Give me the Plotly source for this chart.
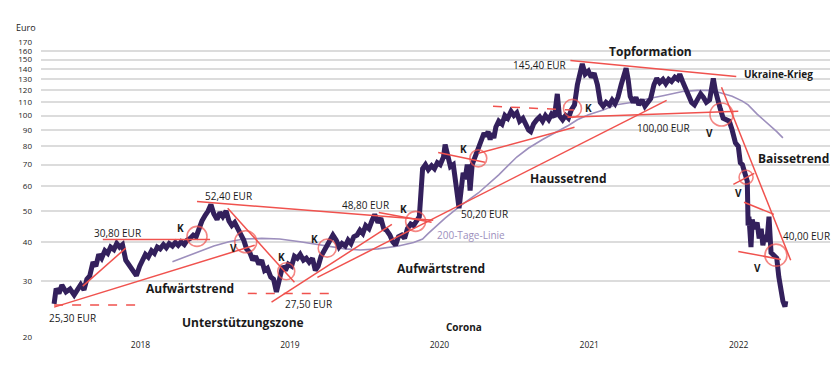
import numpy as np
import plotly.graph_objects as go

# ---------------- data ----------------
price_dates = [
"2017-06-04","2017-06-09","2017-06-16","2017-06-23","2017-07-03","2017-07-13","2017-07-23","2017-08-01","2017-08-08","2017-08-16",
"2017-08-23","2017-08-30","2017-09-07","2017-09-14","2017-09-21","2017-09-28","2017-10-06","2017-10-13","2017-10-20","2017-10-28",
"2017-11-04","2017-11-11","2017-11-18","2017-11-26","2017-12-03","2017-12-10","2017-12-17","2017-12-22","2017-12-30","2018-01-06",
"2018-01-13","2018-01-20","2018-01-28","2018-02-04","2018-02-11","2018-02-18","2018-02-26","2018-03-05","2018-03-12","2018-03-20",
"2018-03-27","2018-04-03","2018-04-10","2018-04-18","2018-04-25","2018-05-02","2018-05-10","2018-05-17","2018-05-24","2018-05-31",
"2018-06-08","2018-06-15","2018-06-22","2018-06-29","2018-07-07","2018-07-14","2018-07-21","2018-07-29","2018-08-05","2018-08-12",
"2018-08-19","2018-08-27","2018-09-03","2018-09-10","2018-09-17","2018-09-25","2018-10-02","2018-10-09","2018-10-17","2018-10-24",
"2018-10-31","2018-11-07","2018-11-15","2018-11-22","2018-11-29","2018-12-07","2018-12-14","2018-12-21","2018-12-28","2019-01-05",
"2019-01-12","2019-01-19","2019-01-26","2019-02-03","2019-02-10","2019-02-17","2019-02-25","2019-03-04","2019-03-11","2019-03-18",
"2019-03-26","2019-04-02","2019-04-09","2019-04-16","2019-04-24","2019-05-01","2019-05-08","2019-05-16","2019-05-23","2019-05-30",
"2019-06-06","2019-06-14","2019-06-21","2019-06-28","2019-07-05","2019-07-13","2019-07-20","2019-07-27","2019-08-04","2019-08-11",
"2019-08-18","2019-08-25","2019-09-02","2019-09-09","2019-09-16","2019-09-23","2019-10-01","2019-10-08","2019-10-15","2019-10-23",
"2019-10-30","2019-11-06","2019-11-13","2019-11-21","2019-11-28","2019-12-05","2019-12-13","2019-12-20","2019-12-27","2020-01-03",
"2020-01-11","2020-01-15","2020-01-20","2020-01-28","2020-02-04","2020-02-09","2020-02-14","2020-02-18","2020-02-23","2020-02-28",
"2020-03-04","2020-03-09","2020-03-14","2020-03-16","2020-03-21","2020-03-26","2020-03-31","2020-04-05","2020-04-09","2020-04-14",
"2020-04-19","2020-04-24","2020-04-29","2020-05-04","2020-05-08","2020-05-13","2020-05-18","2020-05-25","2020-06-02","2020-06-09",
"2020-06-16","2020-06-24","2020-07-01","2020-07-08","2020-07-15","2020-07-23","2020-07-30","2020-08-06","2020-08-11","2020-08-18",
"2020-08-26","2020-09-02","2020-09-09","2020-09-16","2020-09-24","2020-10-01","2020-10-08","2020-10-15","2020-10-20","2020-10-28",
"2020-11-04","2020-11-11","2020-11-18","2020-11-26","2020-12-03","2020-12-10","2020-12-15","2020-12-22","2020-12-30","2021-01-06",
"2021-01-13","2021-01-21","2021-01-28","2021-02-04","2021-02-11","2021-02-19","2021-02-26","2021-03-05","2021-03-12","2021-03-20",
"2021-03-27","2021-04-01","2021-04-06","2021-04-11","2021-04-18","2021-04-25","2021-05-02","2021-05-10","2021-05-17","2021-05-24",
"2021-05-31","2021-06-08","2021-06-15","2021-06-22","2021-06-30","2021-07-07","2021-07-14","2021-07-21","2021-07-29","2021-08-05",
"2021-08-10","2021-08-17","2021-08-24","2021-09-01","2021-09-08","2021-09-15","2021-09-22","2021-09-30","2021-10-07","2021-10-14",
"2021-10-22","2021-10-29","2021-10-31","2021-11-05","2021-11-10","2021-11-17","2021-11-24","2021-12-02","2021-12-09","2021-12-16",
"2021-12-24","2021-12-31","2022-01-05","2022-01-10","2022-01-14","2022-01-19","2022-01-22","2022-01-24","2022-01-26","2022-01-31",
"2022-02-03","2022-02-08","2022-02-15","2022-02-20","2022-02-25","2022-03-01","2022-03-06","2022-03-11","2022-03-16","2022-03-21",
"2022-03-28","2022-04-04","2022-04-09","2022-04-14","2022-04-19","2022-04-24","2022-04-26",
]
price_values = [
25.5,28.5,27.5,29.2,27.8,28.4,27.2,28.2,29.3,28.2,
30.5,31.2,34.5,33.5,36.5,35.5,37.5,36.8,38.5,37.8,
39.5,38.5,39.2,35.0,34.0,33.2,32.0,31.3,33.5,34.8,
36.5,35.8,37.5,36.8,38.5,38.0,39.2,38.3,39.5,38.8,
39.8,39.0,40.0,39.2,40.5,41.0,42.0,41.5,44.0,46.5,
48.5,50.0,52.4,49.0,47.0,49.5,48.0,50.0,46.5,45.0,
46.0,44.0,42.0,40.5,38.0,37.0,35.0,36.0,34.0,35.0,
32.5,33.0,31.0,30.5,27.8,31.5,33.5,32.5,34.0,33.5,
36.0,35.5,36.5,35.0,35.5,34.5,35.5,32.5,33.5,36.0,
37.5,38.5,40.0,42.0,40.5,38.5,39.5,38.8,40.5,39.5,
41.5,42.0,43.5,42.5,45.0,44.0,46.5,48.8,46.0,47.5,
44.0,43.5,42.0,40.0,39.0,41.5,42.0,41.0,44.0,45.5,
45.0,46.5,48.0,68.0,70.0,67.5,69.5,68.0,71.0,70.0,
74.0,81.0,75.0,69.0,70.0,64.0,56.0,51.0,60.0,66.0,
63.0,70.0,64.0,58.0,70.0,73.0,76.0,80.0,82.0,86.0,
88.0,86.0,89.0,84.0,88.0,85.0,92.0,96.0,94.0,100.0,
98.0,103.0,100.0,102.0,96.0,98.0,93.0,90.0,89.0,94.0,
97.0,99.0,96.0,100.0,97.0,101.0,99.0,117.0,100.0,97.0,
100.0,98.0,104.0,108.0,125.0,135.0,145.4,135.0,138.0,132.0,
136.0,125.0,110.0,107.0,110.0,108.0,112.0,109.0,114.0,125.0,
135.0,141.0,130.0,115.0,110.0,114.0,108.0,112.0,107.0,110.0,
113.0,125.0,131.0,127.0,130.0,126.0,130.0,128.0,132.0,130.0,
135.0,128.0,122.0,115.0,110.0,108.0,112.0,117.0,114.0,110.0,
112.0,128.0,131.0,120.0,112.0,105.0,98.0,97.0,96.0,90.0,
82.0,80.0,71.0,70.0,67.0,64.0,62.0,45.0,48.0,38.5,
47.0,44.0,46.0,41.0,44.0,39.0,42.0,40.0,48.0,37.0,
36.0,35.5,31.0,28.0,26.0,25.0,26.0,
]

ma200_dates = [
"2018-03-20","2018-04-18","2018-05-31","2018-06-29","2018-08-05","2018-09-10","2018-10-24","2018-12-07",
"2019-01-26","2019-03-18","2019-05-16","2019-06-21","2019-08-04","2019-09-23","2019-10-30","2019-11-21",
"2019-12-05","2020-01-15","2020-02-18","2020-04-05","2020-05-25","2020-07-08","2020-08-06","2020-09-09",
"2020-10-08","2020-11-11","2020-12-03","2020-12-30","2021-02-04","2021-03-05","2021-04-25","2021-05-24",
"2021-06-30","2021-08-17","2021-09-22","2021-10-22","2021-11-17","2021-12-16","2022-01-10","2022-01-24",
"2022-02-15","2022-03-11","2022-04-04","2022-04-19",
]
ma200_values = [
34.6,35.8,37.5,38.8,40.0,40.8,41.0,40.8,
40.0,39.0,38.0,37.7,38.0,38.8,39.8,40.8,
42.5,47.5,51.5,57.0,65.0,74.0,79.0,84.0,
88.0,93.0,97.0,100.5,104.0,108.0,110.5,113.0,
115.5,119.0,120.0,120.0,118.0,115.0,111.0,108.0,
101.0,95.0,89.0,85.0,
]

year_ticks = ["2018-01-01", "2019-01-01", "2020-01-01", "2021-01-01", "2022-01-01"]
year_labels = ["2018", "2019", "2020", "2021", "2022"]
y_ticks = [20, 30, 40, 50, 60, 70, 80, 90, 100, 110, 120, 130, 140, 150, 160, 170]

# trend lines: (start date, start value, end date, end value, dash)
trend_lines = [
    ("2017-06-04", 24.9, "2018-10-07", 39.0, "solid"),
    ("2017-08-13", 29.0, "2017-11-26", 38.2, "solid"),
    ("2017-06-04", 25.3, "2017-12-25", 25.3, "dash"),
    ("2017-10-01", 40.7, "2018-06-20", 40.7, "solid"),
    ("2018-05-19", 53.6, "2019-12-17", 46.8, "solid"),
    ("2018-08-02", 51.0, "2019-01-12", 29.8, "solid"),
    ("2018-09-20", 27.5, "2019-04-19", 27.5, "dash"),
    ("2018-11-17", 25.8, "2019-09-07", 45.4, "solid"),
    ("2019-08-06", 49.5, "2019-12-13", 46.1, "solid"),
    ("2019-03-09", 30.9, "2021-07-09", 111.6, "solid"),
    ("2019-12-29", 76.5, "2020-04-21", 71.2, "solid"),
    ("2020-04-05", 76.0, "2020-11-26", 91.8, "solid"),
    ("2020-05-11", 106.9, "2020-12-10", 103.8, "dash"),
    ("2020-11-09", 98.7, "2021-12-31", 103.1, "solid"),
    ("2020-11-16", 149.2, "2021-12-26", 132.8, "solid"),
    ("2021-11-20", 122.7, "2022-05-08", 35.0, "solid"),
    ("2021-12-19", 60.7, "2022-02-08", 65.7, "solid"),
    ("2022-01-14", 53.3, "2022-03-28", 48.8, "solid"),
    ("2021-12-31", 37.3, "2022-04-14", 35.2, "solid"),
]

# signal circles: (date, value, diameter)
circles = [
    ("2018-05-19", 41.6, 20), ("2018-09-15", 40.0, 22), ("2018-12-23", 32.3, 17),
    ("2019-04-02", 38.2, 18), ("2019-11-04", 46.4, 20), ("2020-04-05", 73.3, 17),
    ("2020-11-21", 105.3, 18), ("2021-11-20", 100.8, 23), ("2022-01-19", 63.9, 14),
    ("2022-04-02", 36.3, 22),
]

# labels: (text, date, value, style)
labels = [
    ("30,80 EUR", "2017-11-06", 42.5, "eur"),
    ("K", "2018-04-08", 44.1, "sig"),
    ("52,40 EUR", "2018-08-05", 55.6, "eur"),
    ("V", "2018-08-15", 38.2, "sig"),
    ("K", "2018-12-11", 35.7, "sig"),
    ("Aufwärtstrend", "2018-05-02", 28.5, "big"),
    ("25,30 EUR", "2017-07-20", 23.0, "eur"),
    ("Unterstützungszone", "2018-09-08", 22.3, "big"),
    ("27,50 EUR", "2019-02-15", 25.4, "eur"),
    ("K", "2019-03-01", 40.7, "sig"),
    ("48,80 EUR", "2019-07-05", 52.1, "eur"),
    ("K", "2019-10-06", 50.6, "sig"),
    ("Aufwärtstrend", "2020-01-06", 33.0, "big"),
    ("Corona", "2020-03-01", 21.5, "small"),
    ("50,20 EUR", "2020-04-19", 48.8, "eur"),
    ("200-Tage-Linie", "2020-03-19", 41.9, "ma"),
    ("K", "2020-03-01", 78.2, "sig"),
    ("Haussetrend", "2020-11-11", 63.4, "big"),
    ("145,40 EUR", "2020-09-02", 143.9, "eur"),
    ("K", "2020-12-30", 105.3, "sig"),
    ("100,00 EUR", "2021-07-02", 91.1, "eur"),
    ("V", "2021-10-22", 87.9, "sig"),
    ("Topformation", "2021-05-31", 159.2, "big"),
    ("Ukraine-Krieg", "2022-04-07", 134.8, "small"),
    ("Baissetrend", "2022-05-16", 73.3, "big"),
    ("V", "2021-12-31", 56.9, "sig"),
    ("40,00 EUR", "2022-06-16", 41.6, "eur"),
    ("V", "2022-02-17", 33.0, "sig"),
]

# ---------------- styles ----------------
PRICE_C = "#33205c"
MA_C = "#9d8fbd"
RED = "#f0524e"
TXT = "#1a1a1a"
FONT = "Open Sans"

fig = go.Figure()

fig.add_trace(go.Scatter(x=ma200_dates, y=ma200_values, mode="lines",
                         line=dict(color=MA_C, width=1.6), hoverinfo="skip"))
fig.add_trace(go.Scatter(x=price_dates, y=price_values, mode="lines",
                         line=dict(color=PRICE_C, width=5), hoverinfo="skip"))

for d0, v0, d1, v1, dash in trend_lines:
    fig.add_trace(go.Scatter(x=[d0, d1], y=[v0, v1], mode="lines",
                             line=dict(color=RED, width=1.5, dash=dash), hoverinfo="skip"))

fig.add_trace(go.Scatter(
    x=[c[0] for c in circles], y=[c[1] for c in circles], mode="markers",
    marker=dict(symbol="circle-open", size=[c[2] for c in circles], color=RED,
                line=dict(width=1.6, color=RED)),
    hoverinfo="skip"))

styles = {
    "eur": dict(size=10, color=TXT, bold=False),
    "sig": dict(size=10, color=TXT, bold=True),
    "big": dict(size=12, color=TXT, bold=True),
    "small": dict(size=10, color=TXT, bold=True),
    "ma": dict(size=10, color=MA_C, bold=False),
}
for text, d, v, st in labels:
    s = styles[st]
    fig.add_annotation(x=d, y=np.log10(v), xref="x", yref="y",
                       text=f"<b>{text}</b>" if s["bold"] else text,
                       showarrow=False, xanchor="center", yanchor="middle",
                       font=dict(family=FONT, size=s["size"], color=s["color"]))

fig.add_annotation(x=-0.034, y=1.05, xref="paper", yref="paper", text="Euro",
                   showarrow=False, xanchor="left", yanchor="middle",
                   font=dict(family=FONT, size=9, color=TXT))

# the page body adds an 8 px offset, so the figure is sized to fit the window
fig.update_layout(
    width=832, height=364,
    margin=dict(l=27, r=10, t=34, b=34),
    paper_bgcolor="white", plot_bgcolor="white",
    showlegend=False,
    font=dict(family=FONT, color=TXT),
    xaxis=dict(type="date", range=["2017-05-03", "2022-08-12"],
               tickvals=year_ticks, ticktext=year_labels,
               showgrid=False, zeroline=False, showline=False, ticks="",
               tickfont=dict(size=8.5, color=TXT, family=FONT)),
    yaxis=dict(type="log", range=[np.log10(19.9), np.log10(170.5)],
               tickvals=y_ticks, ticktext=[str(v) for v in y_ticks],
               showgrid=True, gridcolor="#dcdcdc", gridwidth=1.5,
               zeroline=False, showline=False, ticks="",
               ticklabelstandoff=8,
               tickfont=dict(size=8, color=TXT, family=FONT)),
)

fig.write_html("out.html")
